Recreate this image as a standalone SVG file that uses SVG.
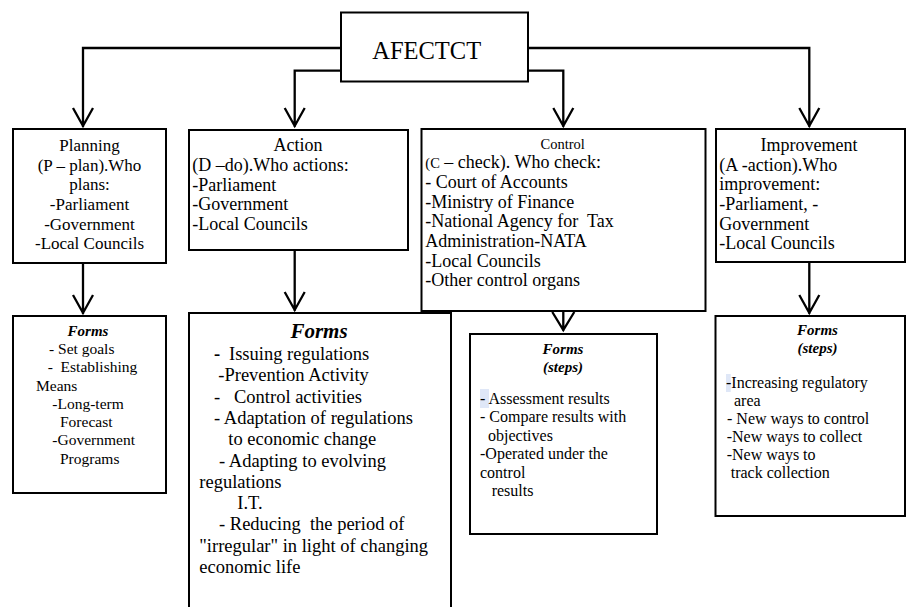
<svg xmlns="http://www.w3.org/2000/svg" width="909" height="607" viewBox="0 0 909 607" font-family="'Liberation Serif', 'Times New Roman', Tinos, 'DejaVu Serif', serif">
<style>
text{font-family:'Liberation Serif','Times New Roman',Tinos,'DejaVu Serif',serif;fill:#000}
.box{fill:#fff;stroke:#000;stroke-width:2}
.con{fill:none;stroke:#000;stroke-width:2.3}
.t17{font-size:17px}
.t18{font-size:18px}
.t155{font-size:15.5px}
.t16{font-size:16px}
.t185{font-size:18.5px}
.bi{font-weight:bold;font-style:italic}
.mid{text-anchor:middle}
</style>
<rect width="909" height="607" fill="#fff"/>
<g id="connectors">
<path class="con" d="M341,48 H83 V127 M73,108 L83,126 L93,108"/>
<path class="con" d="M341,70.7 H294.7 V127 M284.7,108 L294.7,126 L304.7,108"/>
<path class="con" d="M528,70.7 H563.3 V127 M553.3,108 L563.3,126 L573.3,108"/>
<path class="con" d="M528,48 H809.3 V127 M799.3,108 L809.3,126 L819.3,108"/>
<path class="con" d="M83,263 V314 M73,295 L83,313 L93,295"/>
<path class="con" d="M294.7,250 V311 M284.7,292 L294.7,310 L304.7,292"/>
<path class="con" d="M563.3,311 V331 M552.3,312 L563.3,330 L574.3,312"/>
<path class="con" d="M809.3,262 V314 M799.3,295 L809.3,313 L819.3,295"/>
</g>
<g id="afectct">
<rect class="box" x="341" y="12.5" width="187" height="69"/>
<text x="426.7" y="59.3" font-size="24.5" class="mid">AFECTCT</text>
</g>
<g id="planning">
<rect class="box" x="13" y="129" width="153" height="134"/>
<text class="t17 mid" x="89.5" y="151">Planning</text>
<text class="t17 mid" x="89.5" y="170.7">(P – plan).Who</text>
<text class="t17 mid" x="89.5" y="190.4">plans:</text>
<text class="t17 mid" x="89.5" y="210">-Parliament</text>
<text class="t17 mid" x="89.5" y="229.7">-Government</text>
<text class="t17 mid" x="89.5" y="249.4">-Local Councils</text>
</g>
<g id="action">
<rect class="box" x="189" y="130" width="219" height="120"/>
<text class="t18 mid" x="298" y="151">Action</text>
<text class="t18" x="192.3" y="171">(D –do).Who actions:</text>
<text class="t18" x="192.3" y="190.7">-Parliament</text>
<text class="t18" x="192.3" y="210.4">-Government</text>
<text class="t18" x="192.3" y="230">-Local Councils</text>
</g>
<g id="control">
<rect class="box" x="421.5" y="129" width="284" height="182"/>
<text font-size="14.5" class="mid" x="562.7" y="149">Control</text>
<text class="t18" x="425.3" y="168.3"><tspan font-size="14.5">(C</tspan> – check). Who check:</text>
<text class="t18" x="425.3" y="188">- Court of Accounts</text>
<text class="t18" x="425.3" y="207.7">-Ministry of Finance</text>
<text class="t18" x="425.3" y="227.3" xml:space="preserve">-National Agency for  Tax</text>
<text class="t18" x="425.3" y="247">Administration-NATA</text>
<text class="t18" x="425.3" y="266.7">-Local Councils</text>
<text class="t18" x="425.3" y="286.4">-Other control organs</text>
</g>
<g id="improvement">
<rect class="box" x="716" y="129" width="189" height="133"/>
<text class="t18 mid" x="809" y="151">Improvement</text>
<text class="t18" x="719.3" y="170.7">(A -action).Who</text>
<text class="t18" x="719.3" y="190.4">improvement:</text>
<text class="t18" x="719.3" y="210">-Parliament, -</text>
<text class="t18" x="719.3" y="229.7">Government</text>
<text class="t18" x="719.3" y="249.4">-Local Councils</text>
</g>
<g id="planning-forms">
<rect class="box" x="13" y="316" width="153" height="177"/>
<text class="bi mid" font-size="15" x="88" y="335.5">Forms</text>
<text class="t155" x="49" y="354">- Set goals</text>
<text class="t155" x="47.7" y="372.2" xml:space="preserve">-  Establishing</text>
<text class="t155" x="36" y="390.5">Means</text>
<text class="t155" x="52.3" y="408.8">-Long-term</text>
<text class="t155" x="60" y="427">Forecast</text>
<text class="t155" x="52.3" y="445.3">-Government</text>
<text class="t155" x="60" y="463.6">Programs</text>
</g>
<g id="action-forms">
<rect class="box" x="189" y="313" width="262" height="320"/>
<text class="bi mid" font-size="21" x="319" y="338">Forms</text>
<text class="t185" x="214" y="360"><tspan font-weight="bold">-</tspan><tspan x="229">Issuing regulations</tspan></text>
<text class="t185" x="218.3" y="381.3">-Prevention Activity</text>
<text class="t185" x="214" y="402.6">-<tspan x="234">Control activities</tspan></text>
<text class="t185" x="214" y="423.9">- Adaptation of regulations</text>
<text class="t185" x="228.3" y="445.2">to economic change</text>
<text class="t185" x="219" y="466.5">- Adapting to evolving</text>
<text class="t185" x="199.3" y="487.8">regulations</text>
<text class="t185" x="237.3" y="509.1">I.T.</text>
<text class="t185" x="219" y="530.4" xml:space="preserve">- Reducing  the period of</text>
<text class="t185" x="199.3" y="551.7">"irregular" in light of changing</text>
<text class="t185" x="199.3" y="573">economic life</text>
</g>
<g id="control-forms">
<rect class="box" x="470" y="334" width="187" height="200"/>
<text class="bi mid" font-size="15" x="563" y="354">Forms</text>
<text class="bi mid" font-size="15" x="563" y="371.7">(steps)</text>
<rect x="480" y="389" width="9" height="19" fill="#dfe7f7"/>
<text class="t16" x="480" y="403.5">- Assessment results</text>
<text class="t16" x="480" y="422">- Compare results with</text>
<text class="t16" x="488" y="440.5">objectives</text>
<text class="t16" x="480" y="459">-Operated under the</text>
<text class="t16" x="480" y="477.5">control</text>
<text class="t16" x="491.7" y="496">results</text>
</g>
<g id="improvement-forms">
<rect class="box" x="715.5" y="316" width="189.5" height="200"/>
<text class="bi mid" font-size="15" x="817.5" y="335">Forms</text>
<text class="bi mid" font-size="15" x="817.5" y="353">(steps)</text>
<rect x="726" y="374" width="4.7" height="18" fill="#dfe7f7"/>
<text class="t16" x="726" y="388">-Increasing regulatory</text>
<text class="t16" x="734" y="406">area</text>
<text class="t16" x="727" y="424">- New ways to control</text>
<text class="t16" x="726.7" y="442">-New ways to collect</text>
<text class="t16" x="726.7" y="460">-New ways to</text>
<text class="t16" x="730.7" y="478">track collection</text>
</g>
</svg>
